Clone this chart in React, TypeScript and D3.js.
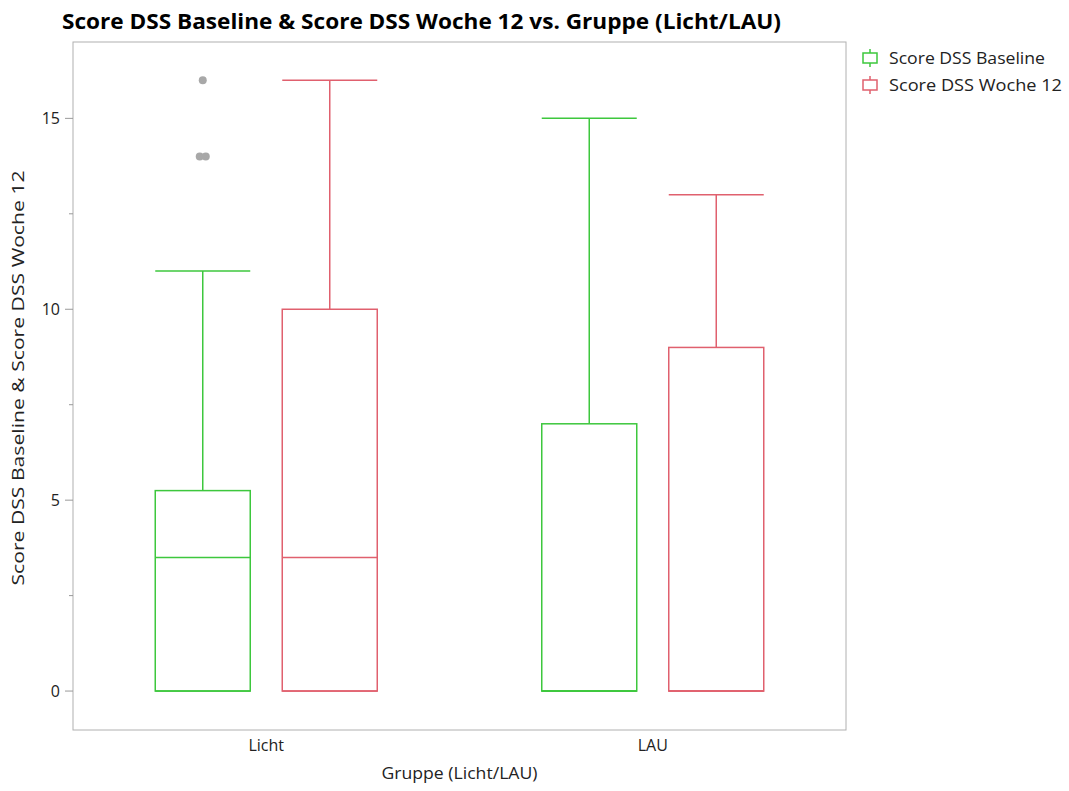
import React from "react";
import * as d3 from "d3";

const groups = ["Licht", "LAU"];
const seriesNames = ["Score DSS Baseline", "Score DSS Woche 12"];
const seriesColors = ["#3dc73d", "#e0606e"];
// [group] = [whiskerLow, q1, median, q3, whiskerHigh]
const baselineStats = [
  [0, 0, 3.5, 5.25, 11],
  [0, 0, 0, 7, 15],
];
const woche12Stats = [
  [0, 0, 3.5, 10, 16],
  [0, 0, 0, 9, 13],
];
// outliers: [groupIndex, seriesIndex, value, jitter]
const outliers: [number, number, number, number][] = [
  [0, 0, 16, 0],
  [0, 0, 14, -3],
  [0, 0, 14, 3],
];
const yTicks = [0, 5, 10, 15];
const yMinorTicks = [2.5, 7.5, 12.5];

const W = 1069;
const H = 791;
const plot = { left: 73, right: 846, top: 42, bottom: 730 };

export default function App() {
  const y = d3.scaleLinear().domain([-1.02, 17]).range([plot.bottom, plot.top]);
  const x = d3
    .scalePoint<string>()
    .domain(groups)
    .range([plot.left, plot.right])
    .padding(0.5);
  const stats = [baselineStats, woche12Stats];
  const boxW = 95;
  const offsets = [-16 - boxW / 2, 16 + boxW / 2];
  const font = "'Open Sans', 'DejaVu Sans', sans-serif";

  return (
    <svg width={W} height={H} style={{ position: "absolute", left: 0, top: 0, background: "#fff" }}>
      <text x={62} y={29} fontFamily={font} fontWeight="bold" fontSize={21} fill="#000" textLength={719} lengthAdjust="spacingAndGlyphs">
        Score DSS Baseline &amp; Score DSS Woche 12 vs. Gruppe (Licht/LAU)
      </text>
      <rect x={plot.left} y={plot.top} width={plot.right - plot.left} height={plot.bottom - plot.top} fill="none" stroke="#b0b0b0" strokeWidth={1} />
      {yTicks.map((t) => (
        <g key={t}>
          <line x1={plot.left - 8} x2={plot.left} y1={y(t)} y2={y(t)} stroke="#999" />
          <text x={plot.left - 13} y={y(t)} dy="0.36em" textAnchor="end" fontFamily={font} fontSize={16} fill="#222">
            {t}
          </text>
        </g>
      ))}
      {yMinorTicks.map((t) => (
        <line key={t} x1={plot.left - 4} x2={plot.left} y1={y(t)} y2={y(t)} stroke="#999" />
      ))}
      <text transform={`translate(24,${(plot.top + plot.bottom) / 2 - 8}) rotate(-90)`} textAnchor="middle" fontFamily={font} fontSize={16} fill="#222" textLength={415} lengthAdjust="spacingAndGlyphs">
        Score DSS Baseline &amp; Score DSS Woche 12
      </text>
      {groups.map((g) => (
        <text key={g} x={x(g)} y={751} textAnchor="middle" fontFamily={font} fontSize={16} fill="#222">
          {g}
        </text>
      ))}
      <text x={(plot.left + plot.right) / 2} y={779} textAnchor="middle" fontFamily={font} fontSize={16} fill="#222" textLength={156} lengthAdjust="spacingAndGlyphs">
        Gruppe (Licht/LAU)
      </text>
      {groups.map((g, gi) =>
        stats.map((s, si) => {
          const [lo, q1, med, q3, hi] = s[gi];
          const cx = (x(g) as number) + offsets[si];
          const x0 = cx - boxW / 2;
          const x1 = cx + boxW / 2;
          const c = seriesColors[si];
          return (
            <g key={`${g}-${si}`} stroke={c} strokeWidth={1.5} fill="none">
              <rect x={x0} y={y(q3)} width={boxW} height={y(q1) - y(q3)} />
              <line x1={x0} x2={x1} y1={y(med)} y2={y(med)} />
              <line x1={cx} x2={cx} y1={y(q3)} y2={y(hi)} />
              <line x1={x0} x2={x1} y1={y(hi)} y2={y(hi)} />
              <line x1={cx} x2={cx} y1={y(q1)} y2={y(lo)} />
              <line x1={x0} x2={x1} y1={y(lo)} y2={y(lo)} />
            </g>
          );
        })
      )}
      {outliers.map(([gi, si, v, j], i) => (
        <circle key={i} cx={(x(groups[gi]) as number) + offsets[si] + j} cy={y(v)} r={4} fill="#a8a8a8" />
      ))}
      {seriesNames.map((n, i) => {
        const ly = 58 + i * 27;
        const c = seriesColors[i];
        return (
          <g key={n}>
            <g stroke={c} strokeWidth={1.5} fill="none">
              <rect x={863} y={ly - 5} width={14} height={10} />
              <line x1={870} x2={870} y1={ly - 9} y2={ly - 5} />
              <line x1={870} x2={870} y1={ly + 5} y2={ly + 9} />
            </g>
            <text x={889} y={ly} dy="0.36em" fontFamily={font} fontSize={16} fill="#222" textLength={i === 0 ? 156 : 173} lengthAdjust="spacingAndGlyphs">
              {n}
            </text>
          </g>
        );
      })}
    </svg>
  );
}
